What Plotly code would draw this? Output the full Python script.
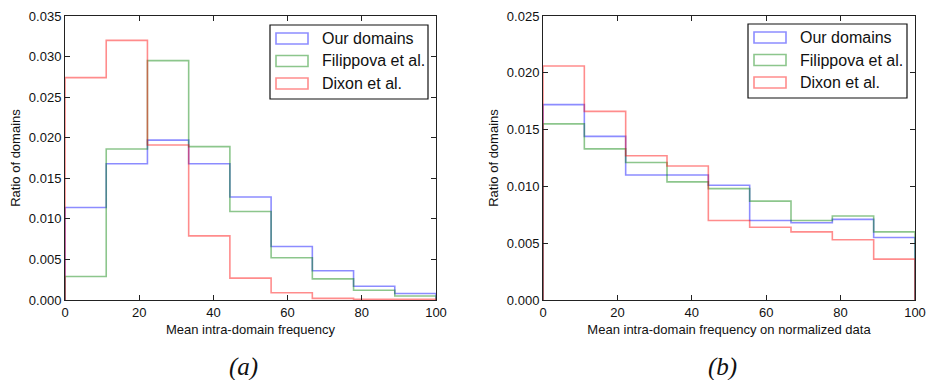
import numpy as np
import plotly.graph_objects as go

# Histogram bin edges (9 equal bins over 0..100)
bin_edges = np.linspace(0, 100, 10)

series_names = ["Our domains", "Filippova et al.", "Dixon et al."]

# (a) Mean intra-domain frequency
raw_ours = [0.0114, 0.0168, 0.0197, 0.0168, 0.0127, 0.0066, 0.0036, 0.0017, 0.0008]
raw_filippova = [0.0029, 0.0186, 0.0295, 0.0189, 0.0109, 0.0052, 0.0026, 0.0012, 0.0005]
raw_dixon = [0.0274, 0.0320, 0.0191, 0.0079, 0.0027, 0.0009, 0.0002, 0.0001, 0.0001]

# (b) Mean intra-domain frequency on normalized data
norm_ours = [0.0172, 0.0144, 0.0110, 0.0110, 0.0101, 0.0070, 0.0068, 0.0071, 0.0055]
norm_filippova = [0.0155, 0.0133, 0.0121, 0.0104, 0.0098, 0.0087, 0.0070, 0.0074, 0.0060]
norm_dixon = [0.0206, 0.0166, 0.0127, 0.0118, 0.0070, 0.0064, 0.0060, 0.0053, 0.0036]

x_ticks = [0, 20, 40, 60, 80, 100]
y_ticks_a = [0.0, 0.005, 0.010, 0.015, 0.020, 0.025, 0.030, 0.035]
y_ticks_b = [0.0, 0.005, 0.010, 0.015, 0.020, 0.025]

colors = ["rgba(0,0,255,0.45)", "rgba(0,128,0,0.45)", "rgba(255,0,0,0.45)"]

W, H = 926, 380
FONT = "Liberation Sans, Arial, Helvetica, sans-serif"


def px(x):
    return x / W


def py(y):
    return 1 - y / H


def step_outline(values):
    # closed step outline as drawn by a 'step' histogram
    xs = [bin_edges[0]] + list(bin_edges)
    ys = [0.0] + list(values) + [0.0]
    return xs, ys


fig = go.Figure()

panels = [
    ("x", "y", [raw_ours, raw_filippova, raw_dixon]),
    ("x2", "y2", [norm_ours, norm_filippova, norm_dixon]),
]
for xa, ya, data in panels:
    for name, vals, col in zip(series_names, data, colors):
        xs, ys = step_outline(vals)
        fig.add_trace(go.Scatter(
            x=xs, y=ys, mode="lines", line=dict(color=col, width=1.6, shape="hv"),
            name=name, showlegend=False, xaxis=xa, yaxis=ya, hoverinfo="skip",
        ))

axis_common = dict(
    showline=True, linecolor="#222", linewidth=1, mirror="allticks",
    ticks="inside", ticklen=5, tickcolor="#222", showgrid=False, zeroline=False,
    tickfont=dict(family=FONT, size=13, color="#111"), automargin=False,
)

top = 16
bottom = 300
fig.update_layout(
    width=W, height=H, margin=dict(l=0, r=0, t=0, b=0),
    paper_bgcolor="white", plot_bgcolor="white",
    xaxis=dict(domain=[px(65), px(436)], range=[0, 100], tickvals=x_ticks,
               title=dict(text="Mean intra-domain frequency", standoff=6,
                          font=dict(family=FONT, size=13, color="#111")),
               anchor="y", **axis_common),
    yaxis=dict(domain=[py(bottom), py(top)], range=[0, 0.035], tickvals=y_ticks_a,
               tickformat=".3f",
               title=dict(text="Ratio of domains", standoff=5,
                          font=dict(family=FONT, size=13, color="#111")),
               anchor="x", **axis_common),
    xaxis2=dict(domain=[px(543), px(915)], range=[0, 100], tickvals=x_ticks,
                title=dict(text="Mean intra-domain frequency on normalized data", standoff=6,
                           font=dict(family=FONT, size=13, color="#111")),
                anchor="y2", **axis_common),
    yaxis2=dict(domain=[py(bottom), py(top)], range=[0, 0.025], tickvals=y_ticks_b,
                tickformat=".3f",
                title=dict(text="Ratio of domains", standoff=5,
                           font=dict(family=FONT, size=13, color="#111")),
                anchor="x2", **axis_common),
)

# Legend boxes drawn in pixel positions (paper coordinates)
shapes = []
annotations = []
for (bx0, by0, bx1, by1) in [(270, 25, 428, 99), (748, 24, 907, 98)]:
    shapes.append(dict(type="rect", xref="paper", yref="paper",
                       x0=px(bx0), x1=px(bx1), y0=py(by1), y1=py(by0),
                       line=dict(color="#111", width=1.2), fillcolor="white", layer="above"))
    for i, (name, col) in enumerate(zip(series_names, colors)):
        cy = by0 + 13.5 + i * 22.5
        shapes.append(dict(type="rect", xref="paper", yref="paper",
                           x0=px(bx0 + 6), x1=px(bx0 + 38), y0=py(cy + 5.5), y1=py(cy - 5.5),
                           line=dict(color=col, width=1.6), fillcolor="rgba(0,0,0,0)",
                           layer="above"))
        annotations.append(dict(xref="paper", yref="paper", x=px(bx0 + 50), y=py(cy),
                                text=name, showarrow=False, xanchor="left", yanchor="middle",
                                font=dict(family=FONT, size=16, color="#111")))

# Panel captions
for label, cx in [("(a)", 243), ("(b)", 722)]:
    annotations.append(dict(xref="paper", yref="paper", x=px(cx), y=py(367), text=label,
                            showarrow=False, xanchor="center", yanchor="middle",
                            font=dict(family="Liberation Serif, Times New Roman, serif",
                                      size=25, color="#111", style="italic")))

fig.update_layout(shapes=shapes, annotations=annotations)

fig.write_html("out.html")
